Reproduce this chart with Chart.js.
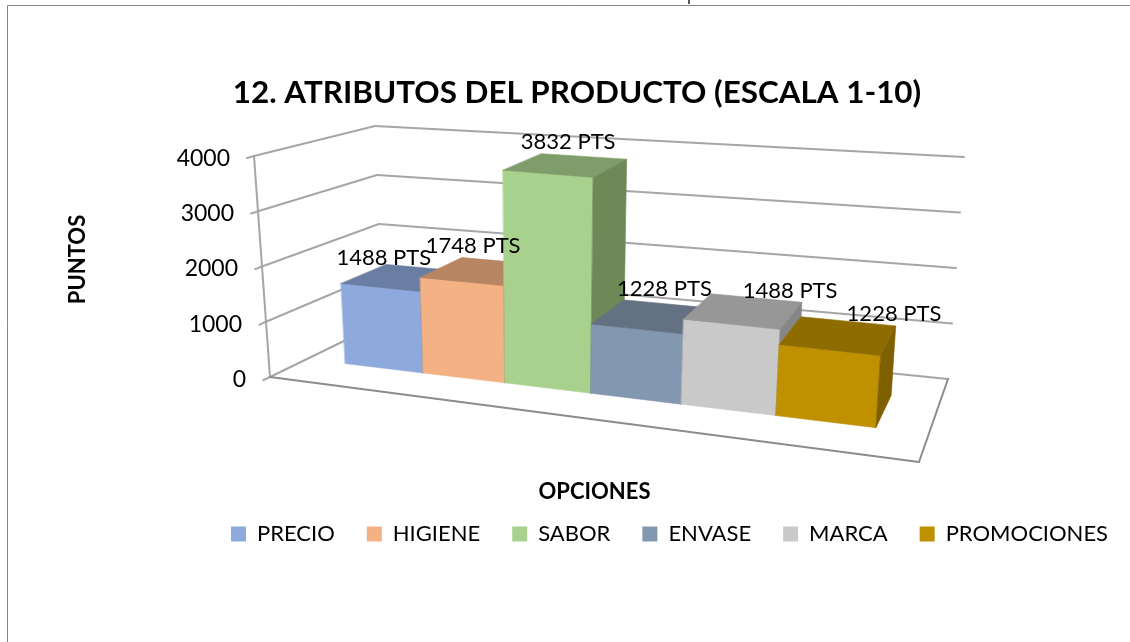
<!DOCTYPE html>
<html><head><meta charset="utf-8">
<style>html,body{margin:0;padding:0;background:#fff;overflow:hidden}canvas{display:block}</style>
<script src="https://cdn.jsdelivr.net/npm/chart.js@4/dist/chart.umd.js"></script>
</head><body><canvas id="c" width="1130" height="642"></canvas>
<script>
const categories = ['ATRIBUTOS'];
const seriesNames = ['PRECIO','HIGIENE','SABOR','ENVASE','MARCA','PROMOCIONES'];
const seriesValues = [1488,1748,3832,1228,1488,1228];
const frontColors = ['#8EA9DB','#F4B183','#A9D18E','#8497B0','#C9C9C9','#BF9000'];
const topColors = ['#6A7EA4','#B78562','#7F9D6A','#637183','#979797','#8F6C00'];
const sideColors = ['#5F7193','#A37757','#6E8858','#586575','#868686','#7F6000'];
const labelNudge = [[-19,-19],[-9,-25],[2,-23],[12,-27],[46,-20],[55,-21]];
const yMax = 4000, yStep = 1000;

/* 3-D box geometry of the Excel-style plot: floor corners and wall rise */
const FL=[270,377],FR=[919,462],BR=[948,379],BL=[383,322];
const riseFL=[-16,-221],riseFR=[18,-242],riseBR=[16,-222],riseBL=[-8,-196];
const bowU=0.07, barDepth=[0.296,0.70];
const det=(a,b)=>a[0]*b[1]-a[1]*b[0];
const sub=(a,b)=>[a[0]-b[0],a[1]-b[1]];
const dx1=sub(FR,BR),dx2=sub(BL,BR),sv=[FL[0]-FR[0]+BR[0]-BL[0],FL[1]-FR[1]+BR[1]-BL[1]];
const den=det(dx1,dx2),gU=det(sv,dx2)/den,gD=det(dx1,sv)/den;
const pU=[FR[0]*(1+gU)-FL[0],FR[1]*(1+gU)-FL[1]],pD=[BL[0]*(1+gD)-FL[0],BL[1]*(1+gD)-FL[1]];
function project(u0,v,d){
  const u=u0+bowU*u0*(1-u0);
  const w=1+gU*u+gD*d;
  const fx=(FL[0]+pU[0]*u+pD[0]*d)/w, fy=(FL[1]+pU[1]*u+pD[1]*d)/w;
  const mix=k=>(riseFL[k]*(1-u)+riseFR[k]*u)*(1-d)+(riseBL[k]*(1-u)+riseBR[k]*u)*d;
  return [fx+v*mix(0),fy+v*mix(1)];
}
function poly(ctx,pts,fill){
  ctx.beginPath();pts.forEach((p,i)=>i?ctx.lineTo(p[0],p[1]):ctx.moveTo(p[0],p[1]));ctx.closePath();
  ctx.fillStyle=fill;ctx.fill();ctx.strokeStyle=fill;ctx.lineWidth=0.6;ctx.stroke();
}
function seg(ctx,a,b){ctx.beginPath();ctx.moveTo(a[0],a[1]);ctx.lineTo(b[0],b[1]);ctx.stroke();}

const titleFont=31.4, tickFont=23, legendFont=22, dataFont=22, axisFont=22;
const layoutPlugin={
  id:'layout3d',
  afterLayout(chart){
    const x=chart.scales.x,y=chart.scales.y;
    x.left=FL[0];x.right=FR[0];x.width=FR[0]-FL[0];x.top=FL[1];x.bottom=492+axisFont*0.6;x.height=x.bottom-x.top;x.configure();
    y.top=157;y.bottom=378;y.height=221;y.left=78-axisFont*0.6;y.right=FL[0];y.width=y.right-y.left;y.configure();
    y._labelItems=null;
    y.getLabelItems().forEach(it=>{
      const py=it.options.translation[1],v=y.getValueForPixel(py)/yMax,e=project(0,v,0);
      it.options.translation=[e[0]-24,py+1.5];
    });
    y.top=141; /* axis title centre */
    const t=chart.titleBlock;t.left=77;t.right=1077;t.width=1000;t.top=93-titleFont*0.6;t.bottom=t.top+titleFont*1.2;
    const l=chart.legend,pad=l.options.labels.padding;
    l.left=231-pad;l.right=l.left+1000;l.top=534-legendFont/2-pad;l.bottom=l.top+legendFont+2*pad;
  },
  beforeDraw(chart){
    const c=chart.ctx;c.save();c.fillStyle='#fff';c.fillRect(0,0,1130,642);
    c.strokeStyle='#868686';c.lineWidth=1;
    c.beginPath();c.moveTo(7.5,642);c.lineTo(7.5,5.5);c.lineTo(1130,5.5);c.stroke();
    c.strokeStyle='#222';c.lineWidth=1.5;seg(c,[689,0],[689,4]);
    c.restore();
  },
  beforeDatasetsDraw(chart){
    const c=chart.ctx,x=chart.scales.x,y=chart.scales.y;
    c.save();c.strokeStyle='#A6A6A6';c.lineWidth=2;c.lineCap='round';
    y.ticks.forEach(t=>{
      const v=t.value/yMax;
      seg(c,project(0,v,-0.05),project(0,v,0));
      seg(c,project(0,v,0),project(0,v,1));
      seg(c,project(0,v,1),project(1,v,1));
    });
    seg(c,project(0,0,0),project(0,1,0));
    c.strokeStyle='#8C8C8C';
    seg(c,project(0,0,0),project(1,0,0));
    seg(c,project(1,0,0),project(1,0,1));
    /* bars painted left to right so nearer boxes overlap */
    const [d0,d1]=barDepth;
    const placed=chart.data.datasets.map((ds,i)=>{
      const el=chart.getDatasetMeta(i).data[0];
      const p=el.getProps(['x','y','base','width'],true);
      const u0=(p.x-p.width/2-x.left)/x.width,u1=(p.x+p.width/2-x.left)/x.width;
      const v=y.getValueForPixel(p.y)/yMax;
      poly(c,[project(u0,0,d0),project(u1,0,d0),project(u1,v,d0),project(u0,v,d0)],ds.backgroundColor);
      poly(c,[project(u0,v,d0),project(u1,v,d0),project(u1,v,d1),project(u0,v,d1)],topColors[i]);
      poly(c,[project(u1,0,d0),project(u1,0,d1),project(u1,v,d1),project(u1,v,d0)],sideColors[i]);
      return {u:(u0+u1)/2,v,value:ds.data[0]};
    });
    c.fillStyle='#000';c.font=dataFont+'px Lato';c.textAlign='center';c.textBaseline='middle';
    placed.forEach((b,i)=>{
      const m=project(b.u,b.v,(d0+d1)/2);
      c.fillText(b.value+' PTS',m[0]+labelNudge[i][0],m[1]+labelNudge[i][1]);
    });
    c.restore();
    return false;
  }
};
new Chart(document.getElementById('c'),{
  type:'bar',
  data:{labels:categories,datasets:seriesNames.map((n,i)=>({label:n,data:[seriesValues[i]],backgroundColor:frontColors[i],borderWidth:0}))},
  plugins:[layoutPlugin],
  options:{
    responsive:false,animation:false,
    datasets:{bar:{categoryPercentage:0.855,barPercentage:1}},
    layout:{padding:0},
    scales:{
      x:{grid:{display:false},border:{display:false},ticks:{display:false},
         title:{display:true,text:'OPCIONES',color:'#000',padding:0,font:{family:'Lato',size:axisFont,weight:'bold'}}},
      y:{min:0,max:yMax,grid:{display:false},border:{display:false},
         ticks:{stepSize:yStep,color:'#000',padding:0,font:{family:'Lato',size:tickFont},callback:v=>String(v)},
         title:{display:true,text:'PUNTOS',color:'#000',padding:0,font:{family:'Lato',size:axisFont,weight:'bold'}}}
    },
    plugins:{
      title:{display:true,text:'12. ATRIBUTOS DEL PRODUCTO (ESCALA 1-10)',color:'#000',padding:0,font:{family:'Lato',size:titleFont,weight:'bold'}},
      legend:{display:true,position:'bottom',align:'start',labels:{boxWidth:15,boxHeight:15,padding:32,color:'#000',font:{family:'Lato',size:legendFont}}},
      tooltip:{enabled:false}
    }
  }
});
</script></body></html>
